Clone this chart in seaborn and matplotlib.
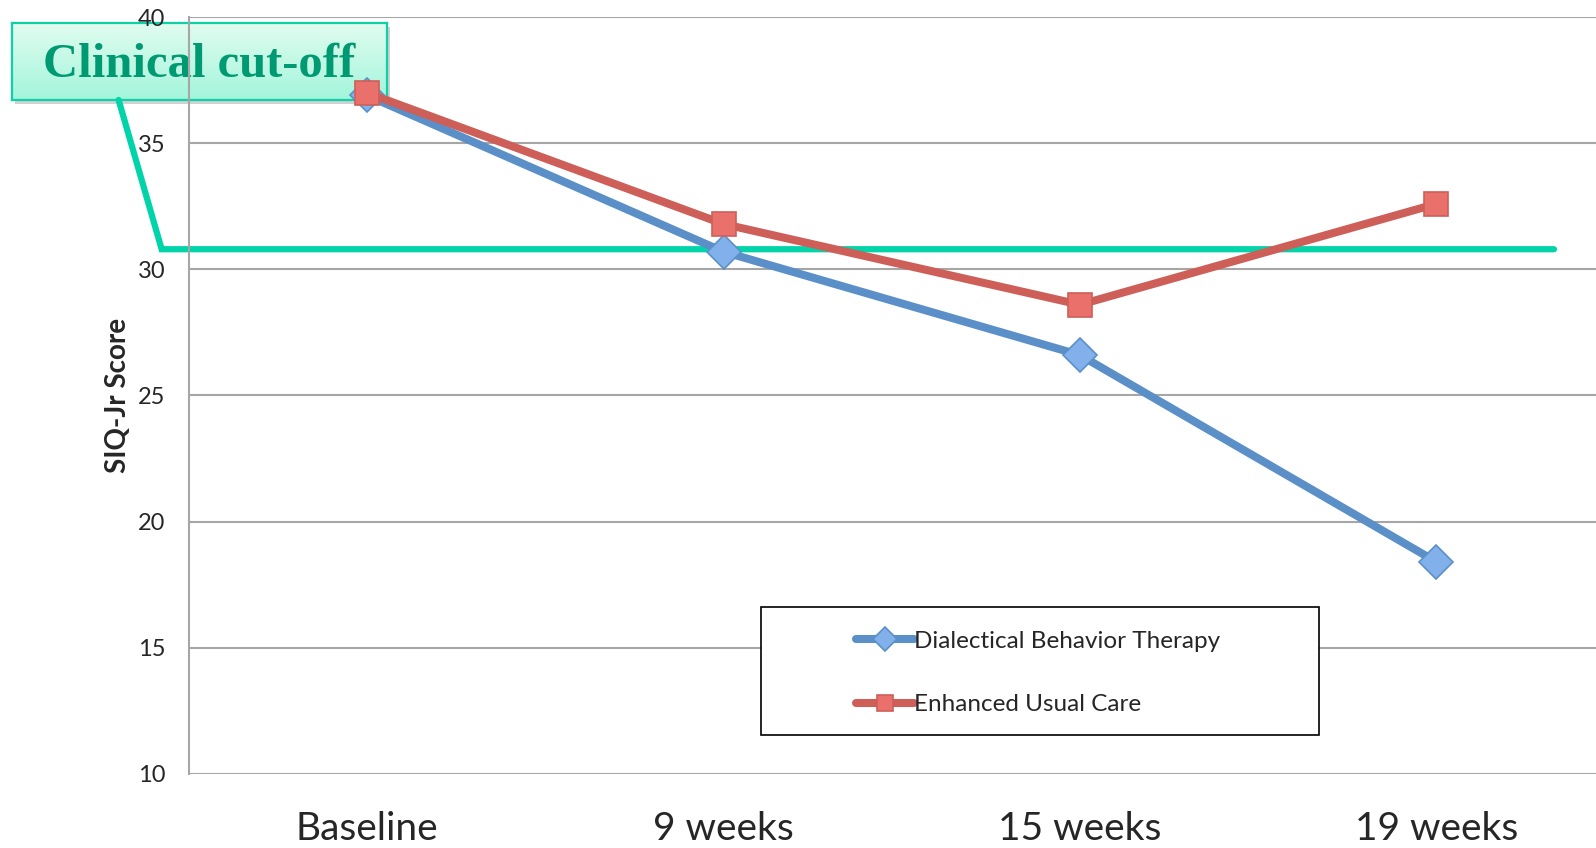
import matplotlib
matplotlib.use("Agg")
import matplotlib.pyplot as plt
import matplotlib.patches as mpatches
import numpy as np
import pandas as pd
import seaborn as sns

# data
timepoints = ["Baseline", "9 weeks", "15 weeks", "19 weeks"]
dbt_scores = [36.9, 30.7, 26.6, 18.4]
euc_scores = [37.0, 31.8, 28.6, 32.6]
group_names = ["Dialectical Behavior Therapy", "Enhanced Usual Care"]
cutoff_score = 30.8
yticks = [10, 15, 20, 25, 30, 35, 40]

W, H = 1596, 848

if __name__ == "__main__":
    sns.set_style("white")
    plt.rcParams['font.family'] = ['Lato', 'DejaVu Sans']

    df = pd.DataFrame({
        "Time": timepoints * 2,
        "Score": dbt_scores + euc_scores,
        "Group": [group_names[0]] * 4 + [group_names[1]] * 4,
    })

    fig = plt.figure(figsize=(W / 100, H / 100), dpi=100)
    fig.patch.set_facecolor("white")

    # callout box (under the main axes)
    bx0, bx1, by0, by1 = 12, 387, 23, 100
    shadow = mpatches.Rectangle(((bx0 + 3) / W, 1 - (by1 + 4) / H), (bx1 - bx0) / W, (by1 - by0) / H,
                                transform=fig.transFigure, facecolor="#000000", alpha=0.18,
                                edgecolor="none", zorder=0)
    fig.patches.append(shadow)
    ax_box = fig.add_axes([bx0 / W, 1 - by1 / H, (bx1 - bx0) / W, (by1 - by0) / H], zorder=0.5)
    grad = np.linspace(0, 1, 64).reshape(-1, 1)
    top_c = np.array([0.88, 0.99, 0.94])
    bot_c = np.array([0.64, 0.96, 0.86])
    img = top_c[None, None, :] * (1 - grad[:, :, None]) + bot_c[None, None, :] * grad[:, :, None]
    ax_box.imshow(img, aspect="auto", extent=(0, 1, 0, 1), origin="upper")
    ax_box.set_xticks([])
    ax_box.set_yticks([])
    for s in ax_box.spines.values():
        s.set_color("#10d0a8")
        s.set_linewidth(1.6)
    ax_box.text(0.5, 0.45, "Clinical cut-off", ha="center", va="center",
                fontsize=35, fontweight="bold", color="#009a72",
                family=["Liberation Serif", "DejaVu Serif"], transform=ax_box.transAxes)

    # main axes
    ax = fig.add_axes([189 / W, 1 - 773.6 / H, 1 - 189 / W, (773.6 - 17.3) / H], zorder=1)
    ax.set_facecolor("none")

    sns.lineplot(data=df, x="Time", y="Score", hue="Group", style="Group",
                 palette={group_names[0]: "#5b8fc8", group_names[1]: "#cd5f58"},
                 markers={group_names[0]: "D", group_names[1]: "s"}, dashes=False,
                 linewidth=5.8, markersize=17, ax=ax, zorder=3, sort=False)
    fills = {"#5b8fc8": "#82b0ea", "#cd5f58": "#ea716b"}
    for line in ax.get_lines():
        c = matplotlib.colors.to_hex(line.get_color())
        if c in fills:
            line.set_markerfacecolor(fills[c])
            line.set_markeredgecolor(c)
            line.set_markeredgewidth(1.2)

    ax.set_ylim(10, 40)
    ax.set_xlim(-0.5, 3.448)
    ax.set_yticks(yticks)
    ax.yaxis.grid(True, color="#a6a6a6", linewidth=1.5)
    ax.xaxis.grid(False)
    for side in ["top", "right", "bottom"]:
        ax.spines[side].set_visible(False)
    ax.spines["left"].set_color("#a6a6a6")
    ax.spines["left"].set_linewidth(1.5)
    ax.tick_params(axis="y", length=0, pad=17, labelsize=17)
    ax.tick_params(axis="x", length=0, pad=27, labelsize=28)
    ax.set_xlabel("")
    ax.set_ylabel("SIQ-Jr Score", fontsize=20, fontweight="bold", labelpad=5)

    # clinical cut-off line with connector to the callout
    x_left = (162 - 367.5) / 356.3
    x_right = (1554 - 367.5) / 356.3
    x_top = (119 - 367.5) / 356.3
    y_top = 40 - (100 - 17.3) / (756.3 / 30)
    ax.plot([x_top, x_left, x_right], [y_top, cutoff_score, cutoff_score],
            color="#00d4a8", linewidth=4.5, clip_on=False, zorder=2,
            solid_joinstyle="miter")

    # legend in a fixed frame
    handles, labels = ax.get_legend_handles_labels()
    if ax.legend_:
        ax.legend_.remove()
    lx0, lx1, ly0, ly1 = 761, 1319, 607, 735
    frame = mpatches.Rectangle((lx0 / W, 1 - ly1 / H), (lx1 - lx0) / W, (ly1 - ly0) / H,
                               transform=fig.transFigure, facecolor="white",
                               edgecolor="black", linewidth=1.2, zorder=4)
    fig.patches.append(frame)
    leg = fig.legend(handles, labels, loc="center left", bbox_to_anchor=(834 / W, 1 - 673 / H),
                     frameon=False, fontsize=17.5, handlelength=2.4, handletextpad=0.0,
                     labelspacing=1.75, markerscale=0.7)
    leg.set_zorder(5)

    fig.savefig("out.png", dpi=100)
